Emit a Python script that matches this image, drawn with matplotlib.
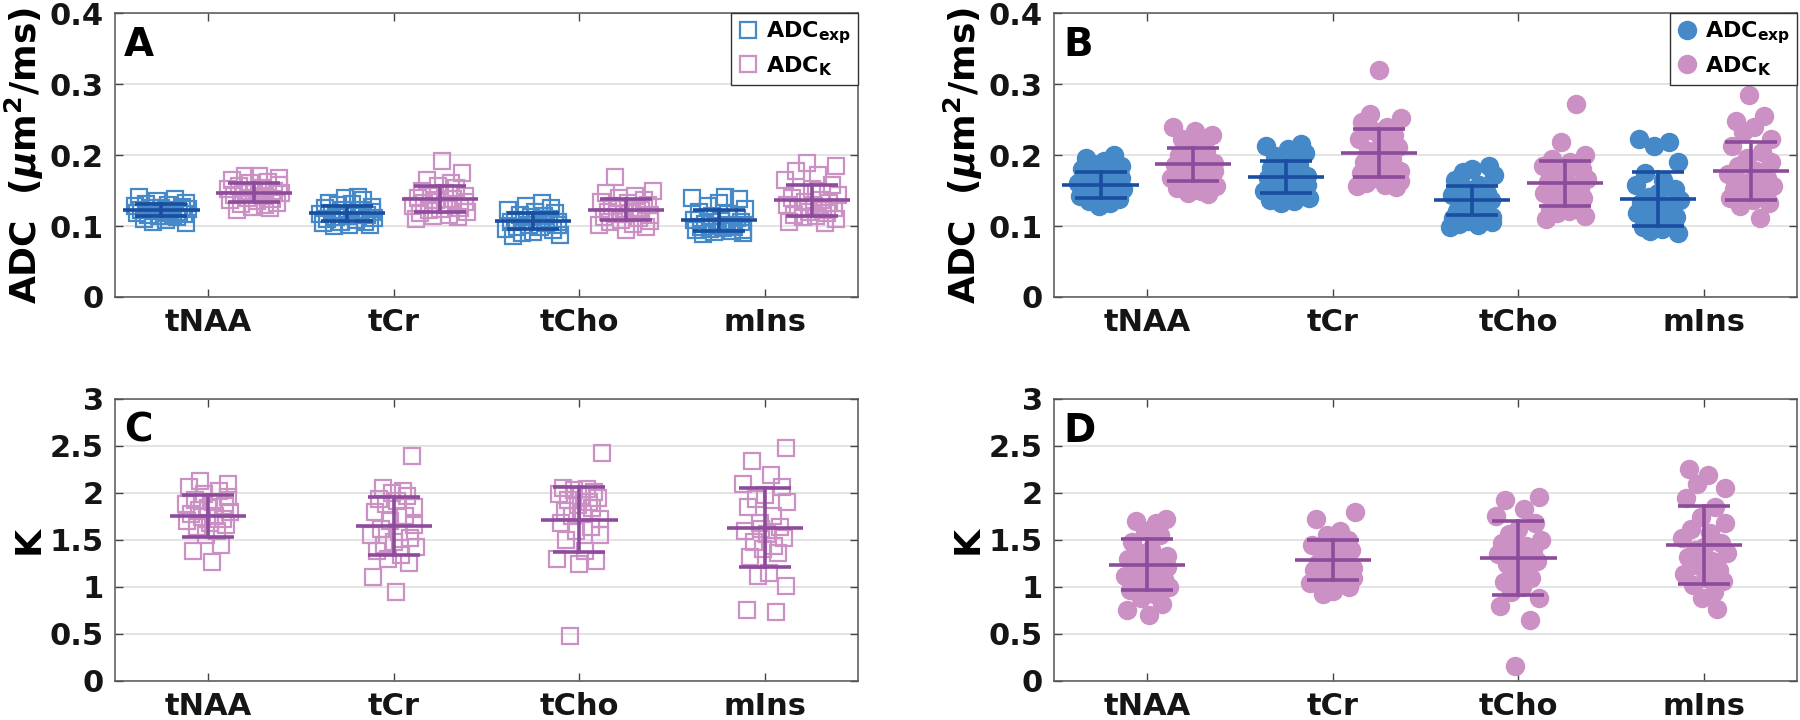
import matplotlib
matplotlib.use('Agg')
import matplotlib.pyplot as plt
from matplotlib.lines import Line2D
import numpy as np

categories = ['tNAA', 'tCr', 'tCho', 'mIns']

# panel A: ADC (squares)
adc_exp_A = [
    [0.141, 0.138, 0.135, 0.133, 0.131, 0.130, 0.128, 0.127, 0.126, 0.125, 0.124, 0.123, 0.122,
     0.121, 0.120, 0.119, 0.118, 0.117, 0.116, 0.115, 0.114, 0.112, 0.110, 0.108, 0.106, 0.104],
    [0.141, 0.139, 0.136, 0.133, 0.131, 0.129, 0.127, 0.125, 0.123, 0.122, 0.120, 0.119, 0.118,
     0.117, 0.116, 0.114, 0.113, 0.111, 0.110, 0.108, 0.106, 0.105, 0.104, 0.102, 0.101, 0.100],
    [0.132, 0.128, 0.125, 0.122, 0.120, 0.118, 0.116, 0.114, 0.112, 0.110, 0.109, 0.108, 0.107,
     0.106, 0.105, 0.104, 0.102, 0.101, 0.099, 0.098, 0.096, 0.094, 0.092, 0.090, 0.088, 0.086],
    [0.141, 0.140, 0.138, 0.133, 0.128, 0.124, 0.120, 0.117, 0.114, 0.111, 0.109, 0.107, 0.105,
     0.103, 0.102, 0.100, 0.099, 0.098, 0.097, 0.096, 0.095, 0.094, 0.093, 0.092, 0.090, 0.089],
]
adc_k_A = [
    [0.171, 0.170, 0.168, 0.165, 0.162, 0.160, 0.158, 0.156, 0.154, 0.152, 0.150, 0.148, 0.147,
     0.146, 0.144, 0.142, 0.140, 0.138, 0.136, 0.135, 0.133, 0.131, 0.129, 0.127, 0.125, 0.123],
    [0.191, 0.174, 0.165, 0.160, 0.156, 0.153, 0.150, 0.147, 0.144, 0.142, 0.140, 0.138, 0.136,
     0.134, 0.132, 0.130, 0.128, 0.126, 0.124, 0.122, 0.120, 0.118, 0.116, 0.114, 0.112, 0.110],
    [0.169, 0.150, 0.146, 0.142, 0.139, 0.136, 0.134, 0.132, 0.130, 0.128, 0.126, 0.124, 0.122,
     0.120, 0.119, 0.117, 0.115, 0.113, 0.111, 0.109, 0.107, 0.105, 0.103, 0.101, 0.098, 0.095],
    [0.189, 0.184, 0.178, 0.172, 0.165, 0.158, 0.152, 0.147, 0.143, 0.140, 0.137, 0.134, 0.132,
     0.130, 0.128, 0.126, 0.124, 0.122, 0.120, 0.118, 0.116, 0.114, 0.112, 0.110, 0.106, 0.104],
]
adc_exp_A_mean = [0.123, 0.118, 0.107, 0.108]
adc_exp_A_sd = [0.0085, 0.0105, 0.011, 0.015]
adc_k_A_mean = [0.147, 0.138, 0.123, 0.136]
adc_k_A_sd = [0.013, 0.018, 0.0145, 0.0215]

# panel B: ADC (circles)
adc_exp_B = [
    [0.200, 0.196, 0.192, 0.188, 0.184, 0.180, 0.176, 0.172, 0.168, 0.165, 0.162, 0.160, 0.158,
     0.156, 0.154, 0.152, 0.150, 0.148, 0.146, 0.144, 0.142, 0.140, 0.138, 0.135, 0.132, 0.128],
    [0.215, 0.212, 0.208, 0.203, 0.198, 0.194, 0.190, 0.186, 0.182, 0.178, 0.174, 0.170, 0.167,
     0.164, 0.161, 0.158, 0.155, 0.152, 0.149, 0.146, 0.143, 0.141, 0.139, 0.137, 0.135, 0.133],
    [0.185, 0.180, 0.176, 0.172, 0.165, 0.158, 0.152, 0.147, 0.143, 0.139, 0.136, 0.133, 0.130,
     0.127, 0.124, 0.121, 0.118, 0.115, 0.113, 0.111, 0.109, 0.107, 0.105, 0.103, 0.101, 0.099],
    [0.222, 0.218, 0.212, 0.190, 0.175, 0.165, 0.158, 0.152, 0.146, 0.141, 0.137, 0.133, 0.129,
     0.125, 0.121, 0.118, 0.115, 0.112, 0.109, 0.106, 0.103, 0.100, 0.098, 0.096, 0.093, 0.090],
]
adc_k_B = [
    [0.240, 0.234, 0.228, 0.222, 0.216, 0.210, 0.205, 0.200, 0.196, 0.192, 0.189, 0.186, 0.183,
     0.180, 0.177, 0.174, 0.171, 0.168, 0.165, 0.162, 0.159, 0.156, 0.153, 0.150, 0.147, 0.145],
    [0.320, 0.258, 0.252, 0.246, 0.240, 0.234, 0.228, 0.222, 0.216, 0.211, 0.206, 0.202, 0.198,
     0.194, 0.190, 0.186, 0.182, 0.178, 0.174, 0.170, 0.167, 0.164, 0.161, 0.158, 0.156, 0.155],
    [0.272, 0.218, 0.200, 0.195, 0.190, 0.185, 0.180, 0.175, 0.170, 0.166, 0.162, 0.158, 0.154,
     0.150, 0.146, 0.142, 0.139, 0.136, 0.133, 0.130, 0.127, 0.124, 0.121, 0.118, 0.114, 0.110],
    [0.285, 0.255, 0.248, 0.240, 0.232, 0.222, 0.212, 0.204, 0.196, 0.190, 0.184, 0.178, 0.173,
     0.168, 0.164, 0.160, 0.156, 0.152, 0.148, 0.145, 0.142, 0.139, 0.136, 0.133, 0.128, 0.111],
]
adc_exp_B_mean = [0.158, 0.169, 0.136, 0.138]
adc_exp_B_sd = [0.018, 0.022, 0.0207, 0.0385]
adc_k_B_mean = [0.187, 0.203, 0.160, 0.178]
adc_k_B_sd = [0.0235, 0.034, 0.032, 0.041]

# panel C: K (squares)
k_C = [
    [2.13, 2.10, 2.06, 2.02, 1.99, 1.96, 1.93, 1.90, 1.88, 1.86, 1.84, 1.82, 1.80,
     1.78, 1.76, 1.74, 1.72, 1.70, 1.68, 1.66, 1.64, 1.60, 1.55, 1.45, 1.38, 1.27],
    [2.39, 2.05, 2.02, 2.00, 1.97, 1.94, 1.91, 1.88, 1.85, 1.80, 1.75, 1.70, 1.66,
     1.62, 1.58, 1.55, 1.52, 1.48, 1.45, 1.42, 1.38, 1.34, 1.30, 1.26, 1.11, 0.95],
    [2.42, 2.05, 2.04, 2.03, 2.01, 1.99, 1.97, 1.95, 1.92, 1.90, 1.87, 1.84, 1.81,
     1.78, 1.75, 1.72, 1.68, 1.64, 1.60, 1.55, 1.50, 1.38, 1.30, 1.28, 1.24, 0.48],
    [2.48, 2.34, 2.19, 2.10, 2.06, 1.98, 1.94, 1.90, 1.85, 1.75, 1.68, 1.64, 1.60,
     1.56, 1.52, 1.48, 1.44, 1.40, 1.36, 1.32, 1.15, 1.12, 1.01, 0.76, 0.73, 1.62],
]
k_C_mean = [1.756, 1.645, 1.717, 1.629]
k_C_sd = [0.222, 0.31, 0.348, 0.42]

# panel D: K (circles)
k_D = [
    [1.72, 1.70, 1.68, 1.60, 1.55, 1.48, 1.40, 1.36, 1.33, 1.30, 1.27, 1.24, 1.21,
     1.18, 1.15, 1.12, 1.09, 1.06, 1.03, 1.00, 0.97, 0.93, 0.88, 0.82, 0.75, 0.70],
    [1.80, 1.72, 1.60, 1.55, 1.50, 1.45, 1.42, 1.39, 1.36, 1.33, 1.30, 1.28, 1.26,
     1.24, 1.22, 1.20, 1.18, 1.15, 1.12, 1.10, 1.08, 1.06, 1.04, 1.00, 0.96, 0.92],
    [1.96, 1.93, 1.83, 1.75, 1.68, 1.62, 1.56, 1.50, 1.47, 1.44, 1.41, 1.38, 1.35,
     1.32, 1.28, 1.24, 1.20, 1.15, 1.10, 1.05, 1.00, 0.95, 0.88, 0.80, 0.65, 0.16],
    [2.25, 2.19, 2.10, 2.05, 1.95, 1.85, 1.74, 1.68, 1.62, 1.57, 1.52, 1.47, 1.43,
     1.39, 1.36, 1.32, 1.28, 1.22, 1.18, 1.14, 1.10, 1.06, 1.02, 0.95, 0.88, 0.77],
]
k_D_mean = [1.234, 1.284, 1.31, 1.45]
k_D_sd = [0.271, 0.215, 0.397, 0.415]

# horizontal scatter of the points around each group centre
jitter = [-0.10, 0.06, -0.02, 0.11, -0.07, 0.03, -0.12, 0.09, 0.00, -0.05, 0.12, -0.09, 0.04,
          -0.03, 0.08, -0.11, 0.01, 0.10, -0.06, 0.05, -0.01, 0.07, -0.08, 0.02, -0.04, 0.11]

blue = '#4689c8'
pink = '#cc91c4'
dblue = '#1a4ea0'
purple = '#8c4b9b'

plt.rcParams['font.family'] = ['DejaVu Sans']
plt.rcParams['font.weight'] = 'bold'
plt.rcParams['mathtext.fontset'] = 'dejavusans'

fig = plt.figure(figsize=(18, 7.2), dpi=100)
ax_A = fig.add_axes([0.0639, 0.5875, 0.4128, 0.3944])
ax_B = fig.add_axes([0.5856, 0.5875, 0.4128, 0.3944])
ax_C = fig.add_axes([0.0639, 0.0542, 0.4128, 0.3917])
ax_D = fig.add_axes([0.5856, 0.0542, 0.4128, 0.3917])


def draw_group(ax, values, means, sds, offset, color, lcolor, marker, filled, seed, spread):
    x0 = np.arange(1, 5) + offset
    for i in range(4):
        jit = np.roll(jitter, seed + 7 * i) * spread
        xs = x0[i] + jit[:len(values[i])]
        if filled:
            ax.plot(xs, values[i], marker, ms=13, color=color, mec=color, ls='none', zorder=2)
        else:
            ax.plot(xs, values[i], marker, ms=11.5, mfc='none', mec=color, mew=1.6, ls='none', zorder=2)
        m, s = means[i], sds[i]
        ax.plot([x0[i] - 0.205, x0[i] + 0.205], [m, m], color=lcolor, lw=2.6, zorder=3,
                solid_capstyle='butt')
        ax.plot([x0[i] - 0.14, x0[i] + 0.14], [m + s, m + s], color=lcolor, lw=2.6, zorder=3,
                solid_capstyle='butt')
        ax.plot([x0[i] - 0.14, x0[i] + 0.14], [m - s, m - s], color=lcolor, lw=2.6, zorder=3,
                solid_capstyle='butt')
        ax.plot([x0[i], x0[i]], [m - s, m + s], color=lcolor, lw=2.6, zorder=3)


def style(ax, ylim, yticks, ylabels, ylabel, letter):
    ax.set_xlim(0.5, 4.5)
    ax.set_ylim(*ylim)
    ax.set_xticks(range(1, 5))
    ax.set_yticks(yticks)
    ax.set_xticklabels(categories, fontsize=22, fontweight='bold')
    ax.set_yticklabels(ylabels, fontsize=22, fontweight='bold')
    ax.yaxis.grid(True, color='#e2e2e2', lw=1.3, zorder=0)
    ax.set_axisbelow(True)
    ax.tick_params(direction='in', length=6, width=1, color='#444444', top=True, right=True,
                   pad=8, labelcolor='#151515')
    for sp in ax.spines.values():
        sp.set_color('#555555')
        sp.set_linewidth(1.1)
    ax.set_ylabel(ylabel, fontsize=26, fontweight='bold', labelpad=3)
    ax.text(0.012, 0.955, letter, transform=ax.transAxes, fontsize=28, fontweight='bold',
            va='top', ha='left')


draw_group(ax_A, adc_exp_A, adc_exp_A_mean, adc_exp_A_sd, -0.25, blue, dblue, 's', False, 0, 1.2)
draw_group(ax_A, adc_k_A, adc_k_A_mean, adc_k_A_sd, 0.25, pink, purple, 's', False, 3, 1.2)
draw_group(ax_B, adc_exp_B, adc_exp_B_mean, adc_exp_B_sd, -0.25, blue, dblue, 'o', True, 5, 1.0)
draw_group(ax_B, adc_k_B, adc_k_B_mean, adc_k_B_sd, 0.25, pink, purple, 'o', True, 11, 1.0)
draw_group(ax_C, k_C, k_C_mean, k_C_sd, 0.0, pink, purple, 's', False, 2, 1.0)
draw_group(ax_D, k_D, k_D_mean, k_D_sd, 0.0, pink, purple, 'o', True, 9, 1.0)

adc_label = r'ADC  ($\mu$m$^\mathbf{2}$/ms)'
style(ax_A, (0, 0.4), [0, 0.1, 0.2, 0.3, 0.4], ['0', '0.1', '0.2', '0.3', '0.4'], adc_label, 'A')
style(ax_B, (0, 0.4), [0, 0.1, 0.2, 0.3, 0.4], ['0', '0.1', '0.2', '0.3', '0.4'], adc_label, 'B')
kt = [0, 0.5, 1, 1.5, 2, 2.5, 3]
kl = ['0', '0.5', '1', '1.5', '2', '2.5', '3']
style(ax_C, (0, 3), kt, kl, 'K', 'C')
style(ax_D, (0, 3), kt, kl, 'K', 'D')

lab_exp = r'$\mathbf{ADC_{exp}}$'
lab_k = r'$\mathbf{ADC_{K}}$'
for ax, filled in [(ax_A, False), (ax_B, True)]:
    if filled:
        h1 = Line2D([], [], marker='o', ms=13, color=blue, ls='none')
        h2 = Line2D([], [], marker='o', ms=13, color=pink, ls='none')
    else:
        h1 = Line2D([], [], marker='s', ms=11.5, mfc='none', mec=blue, mew=1.6, ls='none')
        h2 = Line2D([], [], marker='s', ms=11.5, mfc='none', mec=pink, mew=1.6, ls='none')
    leg = ax.legend([h1, h2], [lab_exp, lab_k], loc='upper right', borderaxespad=0,
                    fontsize=16, frameon=True, fancybox=False, framealpha=1,
                    handletextpad=0.3, handlelength=1.0, borderpad=0.3, labelspacing=0.35)
    leg.get_frame().set_edgecolor('#333333')
    leg.get_frame().set_linewidth(1.0)

fig.savefig('out.png', dpi=100)
